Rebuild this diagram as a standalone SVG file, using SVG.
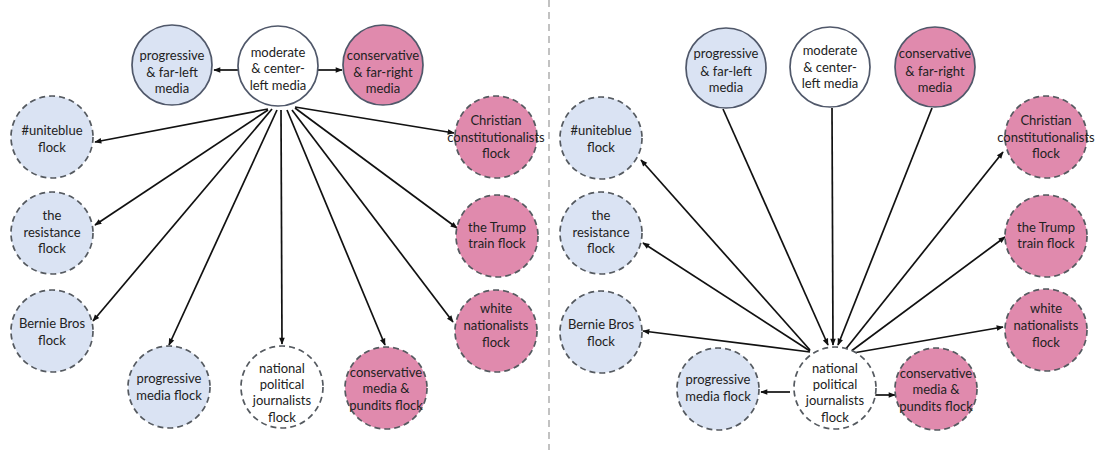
<svg xmlns="http://www.w3.org/2000/svg" width="1098" height="450" viewBox="0 0 1098 450">
<style>
  .bg{fill:#ffffff}
  .solid{stroke:#50586a;stroke-width:1.7}
  .dash{stroke:#555a60;stroke-width:1.7;stroke-dasharray:6 4}
  .blue{fill:#dae3f3}
  .pink{fill:#e08aad}
  .white{fill:#ffffff}
  text{font-family:Lato,"Open Sans","Liberation Sans",sans-serif;font-size:13px;fill:#222;text-anchor:middle}
  .edge{stroke:#111;stroke-width:1.7;fill:none;marker-end:url(#ah)}
  .divider{stroke:#9a9a9a;stroke-width:1.2;stroke-dasharray:7 5}
</style>
<defs>
  <marker id="ah" viewBox="0 0 10 10" refX="9" refY="5" markerWidth="8" markerHeight="7" orient="auto" markerUnits="userSpaceOnUse">
    <path d="M0,1 L10,5 L0,9 z" fill="#111"/>
  </marker>
</defs>
<rect class="bg" x="0" y="0" width="1098" height="450"/>
<line class="divider" x1="549" y1="0" x2="549" y2="450"/>

<g id="connectors">
  <!-- left panel -->
  <line class="edge" x1="238" y1="70" x2="214" y2="70"/>
  <line class="edge" x1="318" y1="70" x2="342" y2="70"/>
  <line class="edge" x1="268" y1="109" x2="95" y2="142"/>
  <line class="edge" x1="268" y1="110" x2="95" y2="225"/>
  <line class="edge" x1="272" y1="109" x2="93" y2="321"/>
  <line class="edge" x1="277" y1="110" x2="169" y2="345"/>
  <line class="edge" x1="281" y1="110" x2="282" y2="344"/>
  <line class="edge" x1="287" y1="110" x2="385" y2="345"/>
  <line class="edge" x1="292" y1="110" x2="453" y2="322"/>
  <line class="edge" x1="295" y1="108" x2="457" y2="228"/>
  <line class="edge" x1="295" y1="107" x2="454" y2="133"/>
  <!-- right panel -->
  <line class="edge" x1="723" y1="109" x2="828" y2="345"/>
  <line class="edge" x1="832" y1="108" x2="833" y2="345"/>
  <line class="edge" x1="932" y1="108" x2="838" y2="345"/>
  <line class="edge" x1="810" y1="350" x2="641" y2="160"/>
  <line class="edge" x1="810" y1="351" x2="643" y2="243"/>
  <line class="edge" x1="810" y1="352" x2="643" y2="331"/>
  <line class="edge" x1="790" y1="392" x2="761" y2="392"/>
  <line class="edge" x1="872" y1="395" x2="895" y2="395"/>
  <line class="edge" x1="845" y1="350" x2="1003" y2="152"/>
  <line class="edge" x1="850" y1="352" x2="1005" y2="237"/>
  <line class="edge" x1="853" y1="353" x2="1003" y2="327"/>
</g>

<!-- LEFT PANEL NODES -->
<g id="L-prog-media">
  <circle class="solid blue" cx="172" cy="65" r="40"/>
  <text x="172" y="60">progressive</text><text x="172" y="77">&amp; far-left</text><text x="172" y="93">media</text>
</g>
<g id="L-moderate">
  <circle class="solid white" cx="278" cy="66" r="40"/>
  <text x="278" y="57">moderate</text><text x="278" y="73">&amp; center-</text><text x="278" y="90">left media</text>
</g>
<g id="L-cons-media">
  <circle class="solid pink" cx="383" cy="65" r="40"/>
  <text x="383" y="60">conservative</text><text x="383" y="77">&amp; far-right</text><text x="383" y="93">media</text>
</g>
<g id="L-uniteblue">
  <circle class="dash blue" cx="52" cy="137" r="41"/>
  <text x="52" y="135">#uniteblue</text><text x="52" y="152">flock</text>
</g>
<g id="L-resistance">
  <circle class="dash blue" cx="52" cy="233" r="41"/>
  <text x="52" y="220">the</text><text x="52" y="237">resistance</text><text x="52" y="253">flock</text>
</g>
<g id="L-bernie">
  <circle class="dash blue" cx="52" cy="331" r="41"/>
  <text x="52" y="328">Bernie Bros</text><text x="52" y="345">flock</text>
</g>
<g id="L-prog-flock">
  <circle class="dash blue" cx="169" cy="387" r="41"/>
  <text x="169" y="383">progressive</text><text x="169" y="400">media flock</text>
</g>
<g id="L-national">
  <circle class="dash white" cx="282" cy="387" r="41"/>
  <text x="282" y="373">national</text><text x="282" y="389">political</text><text x="282" y="405">journalists</text><text x="282" y="422">flock</text>
</g>
<g id="L-cons-flock">
  <circle class="dash pink" cx="386" cy="388" r="41"/>
  <text x="386" y="377">conservative</text><text x="386" y="393">media &amp;</text><text x="386" y="410">pundits flock</text>
</g>
<g id="L-christian">
  <circle class="dash pink" cx="496" cy="137" r="41"/>
  <text x="496" y="125">Christian</text><text x="496" y="142">constitutionalists</text><text x="496" y="158">flock</text>
</g>
<g id="L-trump">
  <circle class="dash pink" cx="497" cy="236" r="41"/>
  <text x="497" y="232">the Trump</text><text x="497" y="248">train flock</text>
</g>
<g id="L-white">
  <circle class="dash pink" cx="496" cy="331" r="41"/>
  <text x="496" y="313">white</text><text x="496" y="330">nationalists</text><text x="496" y="347">flock</text>
</g>

<!-- RIGHT PANEL NODES -->
<g id="R-prog-media">
  <circle class="solid blue" cx="726" cy="68" r="40"/>
  <text x="726" y="58">progressive</text><text x="726" y="76">&amp; far-left</text><text x="726" y="92">media</text>
</g>
<g id="R-moderate">
  <circle class="solid white" cx="830" cy="67" r="40"/>
  <text x="830" y="55">moderate</text><text x="830" y="72">&amp; center-</text><text x="830" y="88">left media</text>
</g>
<g id="R-cons-media">
  <circle class="solid pink" cx="935" cy="67" r="40"/>
  <text x="935" y="58">conservative</text><text x="935" y="76">&amp; far-right</text><text x="935" y="92">media</text>
</g>
<g id="R-uniteblue">
  <circle class="dash blue" cx="601" cy="138" r="41"/>
  <text x="601" y="135">#uniteblue</text><text x="601" y="152">flock</text>
</g>
<g id="R-resistance">
  <circle class="dash blue" cx="601" cy="233" r="41"/>
  <text x="601" y="220">the</text><text x="601" y="237">resistance</text><text x="601" y="253">flock</text>
</g>
<g id="R-bernie">
  <circle class="dash blue" cx="601" cy="332" r="41"/>
  <text x="601" y="329">Bernie Bros</text><text x="601" y="346">flock</text>
</g>
<g id="R-prog-flock">
  <circle class="dash blue" cx="718" cy="389" r="41"/>
  <text x="718" y="384">progressive</text><text x="718" y="401">media flock</text>
</g>
<g id="R-national">
  <circle class="dash white" cx="835" cy="388" r="41"/>
  <text x="835" y="373">national</text><text x="835" y="389">political</text><text x="835" y="405">journalists</text><text x="835" y="422">flock</text>
</g>
<g id="R-cons-flock">
  <circle class="dash pink" cx="936" cy="389" r="41"/>
  <text x="936" y="378">conservative</text><text x="936" y="394">media &amp;</text><text x="936" y="411">pundits flock</text>
</g>
<g id="R-christian">
  <circle class="dash pink" cx="1046" cy="137" r="41"/>
  <text x="1046" y="125">Christian</text><text x="1046" y="142">constitutionalists</text><text x="1046" y="158">flock</text>
</g>
<g id="R-trump">
  <circle class="dash pink" cx="1046" cy="236" r="41"/>
  <text x="1046" y="232">the Trump</text><text x="1046" y="248">train flock</text>
</g>
<g id="R-white">
  <circle class="dash pink" cx="1046" cy="330" r="41"/>
  <text x="1046" y="313">white</text><text x="1046" y="330">nationalists</text><text x="1046" y="347">flock</text>
</g>
</svg>
